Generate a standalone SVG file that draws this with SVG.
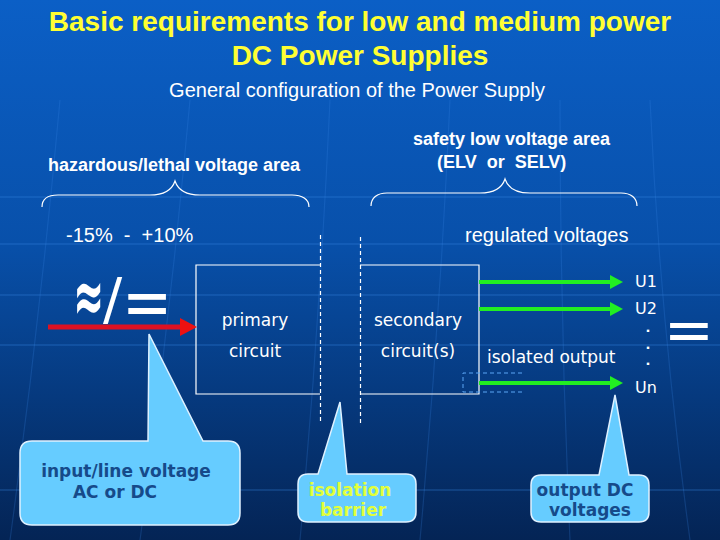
<svg xmlns="http://www.w3.org/2000/svg" width="720" height="540" viewBox="0 0 720 540">
<defs>
<linearGradient id="bg" x1="0" y1="0" x2="0" y2="1">
<stop offset="0" stop-color="#0b5fc6"/>
<stop offset="0.45" stop-color="#0850aa"/>
<stop offset="1" stop-color="#042455"/>
</linearGradient>
<style>
.title{font-family:"Liberation Sans",Arial,sans-serif;font-weight:bold;font-size:28px;fill:#ffff33;text-anchor:middle}
.sub{font-family:"Liberation Sans",Arial,sans-serif;font-size:20px;fill:#ffffff}
.area{font-family:"Liberation Sans",Arial,sans-serif;font-weight:bold;font-size:18px;fill:#ffffff}
.lbl{font-family:"DejaVu Sans",Verdana,sans-serif;font-size:17px;fill:#ffffff}
.ulbl{font-family:"DejaVu Sans",Verdana,sans-serif;font-size:16px;fill:#ffffff}
.dot{font-family:"DejaVu Sans",Verdana,sans-serif;font-weight:bold;font-size:13px;fill:#ffffff}
.sym{font-family:"DejaVu Sans",sans-serif;fill:#ffffff}
.brace{fill:none;stroke:#ffffff;stroke-width:1.2}
.box{fill:none;stroke:#ffffff;stroke-width:1.2}
.barrier{stroke:#ffffff;stroke-width:1.2;stroke-dasharray:4 3}
.green{stroke:#22ee22;stroke-width:4}
.ghead{fill:#22ee22}
.callout{fill:#66ccff;stroke:#dff1ff;stroke-width:1.5}
.ctext{font-family:"DejaVu Sans",Verdana,sans-serif;font-weight:bold;font-size:17px;fill:#164a8a}
.ytext{font-family:"DejaVu Sans",Verdana,sans-serif;font-weight:bold;font-size:17px;fill:#e2ff3a}
.grid{fill:none;stroke:#3a8ae8;stroke-width:1.5;opacity:0.3}
.gridv{fill:none;stroke:#3a8ae8;stroke-width:1.2;opacity:0.22}
</style>
</defs>
<rect width="720" height="540" fill="url(#bg)"/>
<g id="background">
<path class="grid" d="M0,197 H720 M0,244 H720 M0,295 H720 M0,345 H720 M0,490 H720"/>
<path class="gridv" d="M60,100 Q40,320 10,540 M190,100 Q170,320 140,540 M330,100 Q320,320 300,540 M450,100 Q440,320 420,540 M560,100 Q560,320 570,540 M650,100 Q660,320 690,540"/>
</g>
<g id="title">
<text class="title" x="360" y="31">Basic  requirements for low and medium power</text>
<text class="title" x="360" y="65">DC Power Supplies</text>
<text class="sub" x="357" y="97" text-anchor="middle">General configuration of the Power Supply</text>
</g>
<g id="hazard-area">
<text class="area" x="48" y="171">hazardous/lethal voltage area</text>
<path class="brace" d="M42,207 C42,199 48,195 58,195 L150,195 C165,195 172,190 175,181 C178,190 185,195 200,195 L292,195 C302,195 309,199 309,207"/>
<text class="sub" x="66" y="242" xml:space="preserve">-15%  -  +10%</text>
</g>
<g id="safety-area">
<text class="area" x="413" y="145">safety low voltage area</text>
<text class="area" x="437" y="168" xml:space="preserve">(ELV  or  SELV)</text>
<path class="brace" d="M371,206 C371,198 377,193 387,193 L480,193 C495,193 502,188 505,179 C508,188 515,193 530,193 L621,193 C631,193 637,198 637,206"/>
<text class="sub" x="465" y="242">regulated voltages</text>
</g>
<g id="input-symbol">
<text class="sym" font-weight="bold" font-size="46" text-anchor="end" transform="translate(104,322) scale(0.8,1.65)">≈</text>
<text class="sym" font-size="57" x="103" y="319">/</text>
<text class="sym" font-size="60" transform="translate(122,326) scale(1,1.2)">=</text>
</g>
<g id="primary-circuit">
<path class="box" d="M320,265 H196 V394 H320"/>
<text class="lbl" x="255" y="326" text-anchor="middle">primary</text>
<text class="lbl" x="255" y="357" text-anchor="middle">circuit</text>
</g>
<g id="secondary-circuit">
<path class="box" d="M360,265 H479 V394 H360"/>
<text class="lbl" x="418" y="326" text-anchor="middle">secondary</text>
<text class="lbl" x="418" y="357" text-anchor="middle">circuit(s)</text>
</g>
<g id="isolated-output">
<path d="M522,373 H463 V392 H522" fill="none" stroke="#5aa6f5" stroke-width="1" stroke-dasharray="4 3"/>
<text class="lbl" x="487" y="363">isolated output</text>
</g>
<g id="outputs">
<text class="ulbl" x="635" y="287">U1</text>
<text class="ulbl" x="635" y="314">U2</text>
<text class="dot" x="645.5" y="332">.</text>
<text class="dot" x="645.5" y="349">.</text>
<text class="dot" x="645.5" y="365">.</text>
<text class="ulbl" x="635" y="393">Un</text>
<text class="sym" font-size="60" text-anchor="middle" transform="translate(689,350)">=</text>
</g>
<g id="connectors">
<line class="barrier" x1="320.5" y1="235" x2="320.5" y2="423"/>
<line class="barrier" x1="360.5" y1="237" x2="360.5" y2="423"/>
<line x1="48" y1="327" x2="182" y2="327" stroke="#dd1122" stroke-width="5"/>
<polygon points="180,318 197,327 180,336" fill="#ee1111"/>
<line class="green" x1="479" y1="282" x2="612" y2="282"/>
<polygon class="ghead" points="610,275 623,282 610,289"/>
<line class="green" x1="479" y1="309" x2="612" y2="309"/>
<polygon class="ghead" points="610,302 623,309 610,316"/>
<line class="green" x1="479" y1="383" x2="612" y2="383"/>
<polygon class="ghead" points="610,376 623,383 610,390"/>
</g>
<g id="callout-input">
<path class="callout" d="M32,441 L148,441 L149,334 L203,441 L228,441 Q240,441 240,453 L240,513 Q240,525 228,525 L32,525 Q20,525 20,513 L20,453 Q20,441 32,441 Z"/>
<text class="ctext" x="126" y="477" text-anchor="middle" font-size="17.5">input/line voltage</text>
<text class="ctext" x="115" y="498" text-anchor="middle" font-size="17.5">AC or DC</text>
</g>
<g id="callout-barrier">
<path class="callout" d="M308,474 L318,474 L340,402 L347,474 L406,474 Q416,474 416,484 L416,512 Q416,522 406,522 L308,522 Q298,522 298,512 L298,484 Q298,474 308,474 Z"/>
<text class="ytext" x="350" y="496" text-anchor="middle">isolation</text>
<text class="ytext" x="353" y="516" text-anchor="middle">barrier</text>
</g>
<g id="callout-output">
<path class="callout" d="M541,475 L599,475 L615,395 L629,475 L639,475 Q649,475 649,485 L649,512 Q649,522 639,522 L541,522 Q531,522 531,512 L531,485 Q531,475 541,475 Z"/>
<text class="ctext" x="585" y="496" text-anchor="middle">output DC</text>
<text class="ctext" x="590" y="516" text-anchor="middle">voltages</text>
</g>
</svg>
